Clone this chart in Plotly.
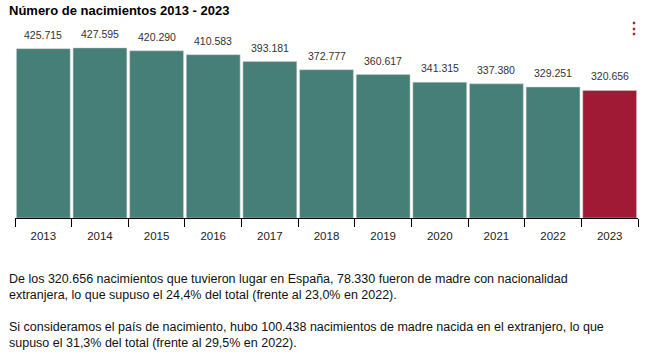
import plotly.graph_objects as go

years = ["2013", "2014", "2015", "2016", "2017", "2018", "2019", "2020", "2021", "2022", "2023"]
births = [425715, 427595, 420290, 410583, 393181, 372777, 360617, 341315, 337380, 329251, 320656]
labels = ["425.715", "427.595", "420.290", "410.583", "393.181", "372.777",
          "360.617", "341.315", "337.380", "329.251", "320.656"]
colors = ["#467f77"] * 10 + ["#a11a35"]

fig = go.Figure(go.Bar(
    x=years, y=births,
    marker=dict(color=colors, line=dict(color="#d0d0d0", width=0.5)),
    cliponaxis=False, hoverinfo="skip",
))

PH = 179.0
PW = 623.0
# category axis: annotation x uses the category's serial index
annotations = [
    dict(x=i, y=v, xref="x", yref="y", text=lab, showarrow=False, yshift=14, yanchor="middle",
         font=dict(family="Arial", size=10.5, color="#333"))
    for i, (v, lab) in enumerate(zip(births, labels))
]
annotations += [
    dict(text="<b>Número de nacimientos 2013 - 2023</b>", xref="paper", yref="paper",
         x=-8/PW, y=1 + 28.5/PH, xanchor="left", yanchor="middle", showarrow=False,
         font=dict(family="Arial", size=13, color="#000")),
    dict(text="<b>⋮</b>", xref="paper", yref="paper",
         x=1 - 4/PW, y=1 + 10/PH, xanchor="center", yanchor="middle", showarrow=False,
         font=dict(family="Arial", size=16, color="#a11a35")),
    dict(text="De los 320.656 nacimientos que tuvieron lugar en España, 78.330 fueron de madre con nacionalidad<br>"
              "extranjera, lo que supuso el 24,4% del total (frente al 23,0% en 2022).",
         xref="paper", yref="paper", x=-8/PW, y=-52/PH, xanchor="left", yanchor="top",
         align="left", showarrow=False,
         font=dict(family="Arial", size=12.5, color="#111")),
    dict(text="Si consideramos el país de nacimiento, hubo 100.438 nacimientos de madre nacida en el extranjero, lo que<br>"
              "supuso el 31,3% del total (frente al 29,5% en 2022).",
         xref="paper", yref="paper", x=-8/PW, y=-100/PH, xanchor="left", yanchor="top",
         align="left", showarrow=False,
         font=dict(family="Arial", size=12.5, color="#111")),
]

fig.update_layout(
    width=653, height=356,
    margin=dict(l=15, r=15, t=39, b=138),
    plot_bgcolor="white", paper_bgcolor="white",
    bargap=0.05,
    showlegend=False,
    xaxis=dict(
        type="category",
        showline=True, linecolor="#000", linewidth=1,
        ticks="outside", tickson="boundaries", ticklen=8, tickcolor="#000",
        ticklabelstandoff=7, tickangle=0,
        tickfont=dict(family="Arial", size=11.5, color="#222"),
        showgrid=False,
    ),
    yaxis=dict(visible=False, range=[0, 450000]),
    annotations=annotations,
)

fig.write_html("out.html", config={"displayModeBar": False},
               post_script="document.body.style.margin='0';")
